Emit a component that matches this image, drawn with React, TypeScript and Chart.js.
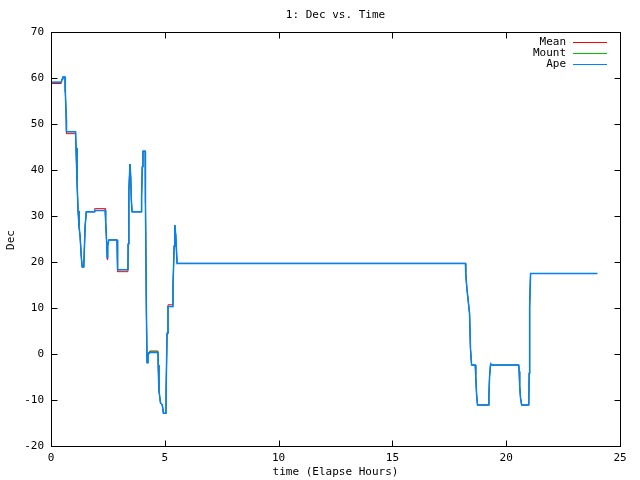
import React, { useEffect, useRef } from "react";
import { Chart, registerables } from "chart.js";

Chart.register(...registerables);

const title = "1: Dec vs. Time";
const xTitle = "time (Elapse Hours)";
const yTitle = "Dec";
const seriesNames = ["Mean", "Mount", "Ape"];
const seriesColors = ["#ff0000", "#00c000", "#0080ff"];
const seriesWidths = [1, 0.9, 1.5];
const xTickRange = [0, 25, 5];
const yTickRange = [-20, 70, 10];

const time = [
  0, 0.45, 0.49, 0.52, 0.62, 0.63, 0.67, 0.68, 1.08, 1.1, 1.14, 1.19, 1.23, 1.28, 1.33, 1.37, 1.44, 1.46, 1.5, 1.55,
  1.91, 1.92, 2.38, 2.4, 2.45, 2.47, 2.49, 2.54, 2.9, 2.91, 2.94, 3.38, 3.39, 3.42, 3.47, 3.5, 3.53, 3.56, 3.97, 3.98,
  4.01, 4.04, 4.14, 4.15, 4.19, 4.22, 4.26, 4.34, 4.7, 4.71, 4.74, 4.81, 4.89, 4.94, 5.05, 5.06, 5.1, 5.14, 5.33, 5.36,
  5.41, 5.44, 5.48, 5.54, 18.21, 18.22, 18.27, 18.31, 18.39, 18.43, 18.48, 18.64, 18.66, 18.7, 18.74, 19.23, 19.24, 19.27, 19.31, 19.33,
  19.36, 20.55, 20.57, 20.59, 20.63, 20.68, 20.99, 21.01, 21.03, 21.07, 24.0,
];

const ape = [
  59.1, 59.1, 59.8, 60.2, 60.2, 57, 51.1, 48.3, 48.3, 44.8, 38.0, 31.1, 27.8, 25.5, 21.2, 18.9, 18.9, 22, 27.8, 30.9,
  30.9, 31.2, 31.2, 29, 23.7, 20.9, 23.5, 24.8, 24.8, 21.5, 18.3, 18.3, 23.9, 35.3, 41.3, 38.7, 33.6, 30.9, 30.9, 34.2,
  40.7, 44.1, 44.1, 32.8, 9.6, -1.9, -0.2, 0.3, 0.3, -2.4, -7.8, -10.6, -11.1, -12.9, -12.9, -7.1, 4.5, 10.3, 10.3, 14.6,
  23.5, 28, 25.9, 19.7, 19.7, 17.7, 14.4, 12.5, 8.8, 1.2, -2.4, -2.4, -4.6, -8.9, -11.1, -11.1, -9.1, -4.8, -2.4, -2.2,
  -2.4, -2.4, -3.8, -6.7, -9.6, -11.1, -11.1, -4.2, 10.2, 17.5, 17.5,
];

const mount = [
  59.1, 59.1, 59.8, 60.2, 60.2, 57, 51.1, 48.3, 48.3, 44.8, 38.0, 31.1, 27.8, 25.5, 21.2, 18.9, 18.9, 22, 27.8, 30.9,
  30.9, 31.2, 31.2, 29, 23.7, 20.9, 23.5, 24.8, 24.8, 21.5, 18.3, 18.3, 23.9, 35.3, 41.3, 38.7, 33.6, 30.9, 30.9, 34.2,
  40.7, 44.1, 44.1, 32.8, 9.6, -1.9, -0.2, 0.55, 0.55, -2.4, -7.8, -10.6, -11.1, -12.9, -12.9, -7.1, 4.5, 10.3, 10.3, 14.6,
  23.5, 28, 25.9, 19.7, 19.7, 17.7, 14.4, 12.5, 8.8, 1.2, -2.4, -2.4, -4.6, -8.9, -11.1, -11.1, -9.1, -4.8, -2.4, -2.2,
  -2.4, -2.4, -3.8, -6.7, -9.6, -11.1, -11.1, -4.2, 10.2, 17.5, 17.5,
];

const mean = [
  58.8, 58.8, 59.8, 60.2, 60.2, 57, 51.1, 47.9, 47.9, 44.8, 38.0, 31.1, 27.8, 25.5, 21.2, 18.9, 18.9, 22, 27.8, 30.9,
  30.9, 31.6, 31.6, 29, 23.7, 20.5, 23.5, 24.8, 24.8, 21.5, 17.9, 17.9, 23.9, 35.3, 41.3, 38.7, 33.6, 30.9, 30.9, 34.2,
  40.7, 44.1, 44.1, 32.8, 9.6, -1.9, 0.1, 0.65, 0.65, -2.4, -7.8, -10.6, -11.1, -12.9, -12.9, -7.1, 4.5, 10.7, 10.7, 14.6,
  23.5, 28, 25.9, 19.7, 19.7, 17.7, 14.4, 12.5, 8.8, 1.2, -2.4, -2.4, -4.6, -8.9, -11.1, -11.1, -9.1, -4.8, -2.4, -2.2,
  -2.4, -2.4, -3.8, -6.7, -9.6, -11.1, -11.1, -4.2, 10.2, 17.5, 17.5,
];

const FONT = '11px "DejaVu Sans Mono", monospace';

const frameAndLabels = {
  id: "gnuplotFrame",
  afterDraw(chart: any) {
    const { ctx, chartArea, scales } = chart;
    const { left, right, top, bottom } = chartArea;
    const L = Math.round(left) + 0.5;
    const R = Math.round(right) + 0.5;
    const T = Math.round(top) + 0.5;
    const B = Math.round(bottom) + 0.5;
    const tl = 6;
    ctx.save();
    ctx.strokeStyle = "#000";
    ctx.lineWidth = 1;
    ctx.beginPath();
    for (let v = xTickRange[0]; v <= xTickRange[1]; v += xTickRange[2]) {
      const px = Math.round(scales.x.getPixelForValue(v)) + 0.5;
      ctx.moveTo(px, B);
      ctx.lineTo(px, B - tl);
      ctx.moveTo(px, T);
      ctx.lineTo(px, T + tl);
    }
    for (let v = yTickRange[0]; v <= yTickRange[1]; v += yTickRange[2]) {
      const py = Math.round(scales.y.getPixelForValue(v)) + 0.5;
      ctx.moveTo(L, py);
      ctx.lineTo(L + tl, py);
      ctx.moveTo(R, py);
      ctx.lineTo(R - tl, py);
    }
    ctx.stroke();
    ctx.strokeRect(L, T, R - L, B - T);

    ctx.fillStyle = "#000";
    ctx.font = FONT;
    ctx.textAlign = "center";
    ctx.textBaseline = "middle";
    const cx = (left + right) / 2;
    ctx.fillText(title, cx, 15);
    ctx.fillText(xTitle, cx, 472);
    ctx.save();
    ctx.translate(11, 240);
    ctx.rotate(-Math.PI / 2);
    ctx.fillText(yTitle, 0, 0);
    ctx.restore();

    // legend
    seriesNames.forEach((name, i) => {
      const y = 42 + i * 11;
      ctx.textAlign = "right";
      ctx.fillStyle = "#000";
      ctx.fillText(name, 566, y);
      ctx.strokeStyle = seriesColors[i];
      ctx.lineWidth = 1;
      ctx.beginPath();
      ctx.moveTo(573, y + 0.5);
      ctx.lineTo(607, y + 0.5);
      ctx.stroke();
    });
    ctx.restore();
  },
};

export default function App() {
  const ref = useRef<HTMLCanvasElement | null>(null);
  useEffect(() => {
    if (!ref.current) return;
    const series = [mean, mount, ape];
    const chart = new Chart(ref.current, {
      type: "line",
      data: {
        datasets: series.map((vals, i) => ({
          label: seriesNames[i],
          data: time.map((t, j) => ({ x: t, y: vals[j] })),
          borderColor: seriesColors[i],
          backgroundColor: seriesColors[i],
          borderWidth: seriesWidths[i],
          pointRadius: 0,
          tension: 0,
          fill: false,
          order: 2 - i,
        })),
      },
      options: {
        animation: false,
        responsive: false,
        devicePixelRatio: 1,
        layout: { padding: { left: 0, top: 32, right: 20, bottom: 0 } },
        plugins: {
          legend: { display: false },
          title: { display: false },
          tooltip: { enabled: false },
        },
        scales: {
          x: {
            type: "linear",
            min: xTickRange[0],
            max: xTickRange[1],
            grid: { display: false, drawTicks: false },
            border: { display: false },
            ticks: {
              stepSize: xTickRange[2],
              color: "#000",
              font: { family: '"DejaVu Sans Mono", monospace', size: 11 },
              padding: 6,
              maxRotation: 0,
            },
            afterFit: (s: any) => {
              s.height = 34;
            },
          },
          y: {
            type: "linear",
            min: yTickRange[0],
            max: yTickRange[1],
            grid: { display: false, drawTicks: false },
            border: { display: false },
            ticks: {
              stepSize: yTickRange[2],
              color: "#000",
              font: { family: '"DejaVu Sans Mono", monospace', size: 11 },
              padding: 7,
            },
            afterFit: (s: any) => {
              s.width = 51;
            },
          },
        },
      },
      plugins: [frameAndLabels],
    });
    return () => chart.destroy();
  }, []);
  return (
    <div style={{ position: "fixed", left: 0, top: 0, width: 640, height: 480, background: "#fff" }}>
      <canvas ref={ref} width={640} height={480} style={{ width: 640, height: 480 }} />
    </div>
  );
}
